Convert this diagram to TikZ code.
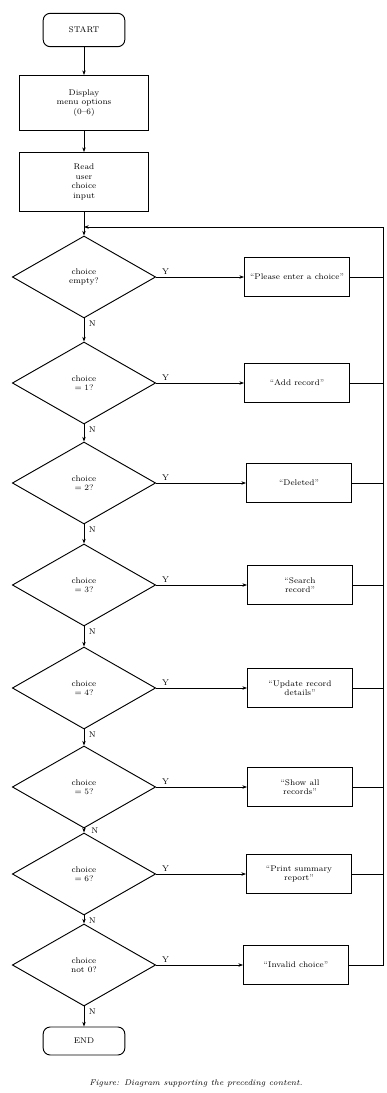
\documentclass[tikz,border=0pt]{standalone}
\usepackage{tikz}
\usetikzlibrary{
    shapes.geometric,
    shapes.misc,
    arrows.meta,
    positioning,
    calc
}

\begin{document}
\begin{tikzpicture}[x=0.03cm, y=-0.03cm,
            terminal/.style={draw, thick, rounded corners=6pt, minimum width=2.45cm, minimum height=1.0cm, font=\scriptsize},
            process/.style={draw, thick, align=center, minimum width=3.85cm, font=\scriptsize},
            decision/.style={draw, thick, diamond, align=center, inner sep=0pt, minimum width=4.3cm, minimum height=2.46cm, font=\scriptsize},
            outbox/.style={draw, thick, align=center, minimum width=3.15cm, minimum height=1.15cm, font=\scriptsize},
            flow/.style={thick, -{Stealth[length=4pt]}},
            link/.style={thick},
            branch/.style={font=\scriptsize, inner sep=1pt}]

            \useasboundingbox (0,0) rectangle (386,1093);

            % Start and input
            \node[terminal] (start) at (84,30) {START};
            \node[process, minimum height=1.65cm] (menu) at (84,103) {Display\\menu options\\(0--6)};
            \node[process, minimum height=1.77cm] (read) at (84,182) {Read\\user\\choice\\input};
            \coordinate (merge) at (84,227);
            \coordinate (looptop) at (383,227);

            % Decisions
            \node[decision] (d1) at (84,277) {choice\\empty?};
            \node[decision] (d2) at (84,383) {choice\\$=1$?};
            \node[decision] (d3) at (84,483) {choice\\$=2$?};
            \node[decision] (d4) at (84,585) {choice\\$=3$?};
            \node[decision] (d5) at (84,688) {choice\\$=4$?};
            \node[decision] (d6) at (84,787) {choice\\$=5$?};
            \node[decision] (d7) at (84,874) {choice\\$=6$?};
            \node[decision] (d8) at (84,965) {choice\\not 0?};

            % Outputs
            \node[outbox] (out1) at (297,277) {``Please enter a choice''};
            \node[outbox] (out2) at (297,383) {``Add record''};
            \node[outbox] (out3) at (299,483) {``Deleted''};
            \node[outbox] (out4) at (300,585) {``Search\\record''};
            \node[outbox] (out5) at (300,688) {``Update record\\details''};
            \node[outbox] (out6) at (300,787) {``Show all\\records''};
            \node[outbox] (out7) at (299,874) {``Print summary\\report''};
            \node[outbox] (out8) at (296,965) {``Invalid choice''};

            % End
            \node[terminal, minimum height=0.84cm] (end) at (84,1041) {END};

            % Main flow
            \draw[flow] (start) -- (menu);
            \draw[flow] (menu) -- (read);
            \draw[flow] (read) -- (d1);
            \draw[flow] (d1) -- (d2);
            \draw[flow] (d2) -- (d3);
            \draw[flow] (d3) -- (d4);
            \draw[flow] (d4) -- (d5);
            \draw[flow] (d5) -- (d6);
            \draw[flow] (d6) -- (d7);
            \draw[flow] (d7) -- (d8);
            \draw[flow] (d8) -- (end);

            % Yes branches
            \draw[flow] (d1) -- (out1);
            \draw[flow] (d2) -- (out2);
            \draw[flow] (d3) -- (out3);
            \draw[flow] (d4) -- (out4);
            \draw[flow] (d5) -- (out5);
            \draw[flow] (d6) -- (out6);
            \draw[flow] (d7) -- (out7);
            \draw[flow] (d8) -- (out8);

            % Loop back
            \draw[link] (out1.east) -- (out1.east -| looptop);
            \draw[link] (out2.east) -- (out2.east -| looptop);
            \draw[link] (out3.east) -- (out3.east -| looptop);
            \draw[link] (out4.east) -- (out4.east -| looptop);
            \draw[link] (out5.east) -- (out5.east -| looptop);
            \draw[link] (out6.east) -- (out6.east -| looptop);
            \draw[link] (out7.east) -- (out7.east -| looptop);
            \draw[link] (out8.east) -- (out8.east -| looptop) -- (looptop);
            \draw[flow] (looptop) -- (merge);

            % Labels
            \node[branch, above right=1pt and 4pt of d1.east] {Y};
            \node[branch, above right=1pt and 4pt of d2.east] {Y};
            \node[branch, above right=1pt and 4pt of d3.east] {Y};
            \node[branch, above right=1pt and 4pt of d4.east] {Y};
            \node[branch, above right=1pt and 4pt of d5.east] {Y};
            \node[branch, above right=1pt and 4pt of d6.east] {Y};
            \node[branch, above right=1pt and 4pt of d7.east] {Y};
            \node[branch, above right=1pt and 4pt of d8.east] {Y};
            \node[branch, below right=1pt and 3pt of d1.south] {N};
            \node[branch, below right=1pt and 3pt of d2.south] {N};
            \node[branch, below right=1pt and 3pt of d3.south] {N};
            \node[branch, below right=1pt and 3pt of d4.south] {N};
            \node[branch, below right=1pt and 3pt of d5.south] {N};
            \node[branch, right=5pt of $(d6.south)!0.5!(d7.north)$] {N};
            \node[branch, below right=1pt and 3pt of d7.south] {N};
            \node[branch, below right=1pt and 3pt of d8.south] {N};

            % Caption
            \node[font=\scriptsize\itshape] (caption) at (196,1083) {Figure: Diagram supporting the preceding content.};
        \end{tikzpicture}
\end{document}
